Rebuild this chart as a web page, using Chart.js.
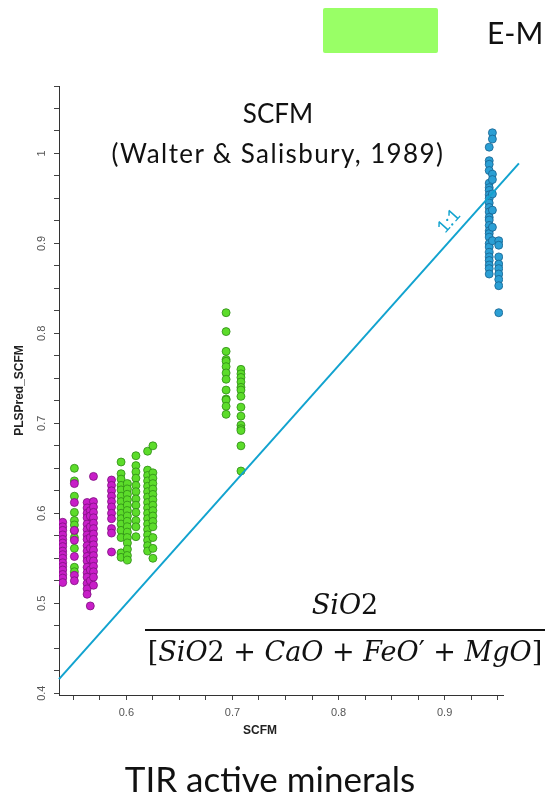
<!DOCTYPE html>
<html lang="en">
  <head>
    <meta charset="UTF-8" />
    <title>SCFM - TIR active minerals</title>
    <script src="https://cdn.jsdelivr.net/npm/chart.js"></script>
    <style>
      html,
      body {
        margin: 0;
        padding: 0;
        background: #fff;
      }
      body {
        position: relative;
        width: 547px;
        height: 803px;
        overflow: hidden;
        font-family: Lato, "Open Sans", sans-serif;
        color: #111;
      }
      .chart-container {
        position: absolute;
        left: 0;
        top: 0;
        width: 547px;
        height: 803px;
      }
      .legend-box {
        position: absolute;
        left: 323px;
        top: 8px;
        width: 115px;
        height: 45px;
        background: #99ff66;
        border-radius: 2px;
      }
      .legend-label {
        position: absolute;
        left: 487px;
        top: 12px;
        font-size: 30px;
        line-height: 40px;
      }
      .title {
        position: absolute;
        left: 28px;
        width: 500px;
        text-align: center;
        font-size: 26px;
        line-height: 30px;
      }
      .formula-part {
        position: absolute;
        left: 145px;
        width: 400px;
        text-align: center;
        font-family: "DejaVu Serif", serif;
        font-size: 27px;
        line-height: 34px;
      }
      .formula-bar {
        position: absolute;
        left: 145px;
        top: 629px;
        width: 400px;
        height: 2px;
        background: #111;
      }
      .footer {
        position: absolute;
        left: 20px;
        width: 500px;
        top: 757px;
        text-align: center;
        font-size: 35px;
        line-height: 42px;
      }
    </style>
  </head>
  <body>
    <div class="chart-container">
      <canvas id="scfmChart"></canvas>
    </div>

    <div class="legend-box"></div>
    <div class="legend-label">E-M</div>

    <div class="title" style="top: 98px">SCFM</div>
    <div class="title" style="top: 138px; letter-spacing: 1.4px">
      (Walter &amp; Salisbury, 1989)
    </div>

    <div class="formula-part" style="top: 588px"><i>SiO</i>2</div>
    <div class="formula-bar"></div>
    <div class="formula-part" style="top: 635px">
      [<i>SiO</i>2 + <i>CaO</i> + <i>FeO</i>′ + <i>MgO</i>]
    </div>

    <div class="footer">TIR active minerals</div>

    <script>
      // measured SCFM (x) and predicted SCFM (y), one array per column of points
      const magentaColX = [0.540, 0.551, 0.563, 0.566, 0.569, 0.586];
      const magentaColY = [
        [0.590, 0.585, 0.581, 0.576, 0.571, 0.567, 0.563, 0.558, 0.554, 0.550, 0.545, 0.541, 0.537, 0.532, 0.528, 0.523],
        [0.633, 0.612, 0.581, 0.570, 0.552, 0.531, 0.525],
        [0.612, 0.606, 0.600, 0.595, 0.588, 0.582, 0.576, 0.571, 0.564, 0.558, 0.552, 0.547, 0.540, 0.534, 0.529, 0.522, 0.516, 0.510],
        [0.603, 0.597, 0.585, 0.573, 0.561, 0.549, 0.537, 0.525, 0.497],
        [0.641, 0.613, 0.607, 0.601, 0.595, 0.589, 0.583, 0.577, 0.571, 0.565, 0.559, 0.553, 0.547, 0.541, 0.535, 0.529, 0.520],
        [0.637, 0.631, 0.625, 0.619, 0.613, 0.607, 0.600, 0.594, 0.583, 0.578, 0.557],
      ];

      const greenColX = [0.551, 0.595, 0.601, 0.609, 0.620, 0.625, 0.694, 0.708];
      const greenColY = [
        [0.650, 0.636, 0.619, 0.601, 0.592, 0.587, 0.581, 0.573, 0.561, 0.540, 0.535],
        [0.657, 0.644, 0.638, 0.631, 0.626, 0.619, 0.613, 0.606, 0.600, 0.594, 0.588, 0.581, 0.573, 0.556, 0.551],
        [0.633, 0.627, 0.621, 0.615, 0.609, 0.603, 0.597, 0.591, 0.585, 0.579, 0.573, 0.567, 0.560, 0.553, 0.548],
        [0.664, 0.653, 0.646, 0.639, 0.631, 0.624, 0.616, 0.609, 0.601, 0.592, 0.585, 0.574],
        [0.669, 0.648, 0.642, 0.636, 0.630, 0.624, 0.618, 0.612, 0.606, 0.600, 0.594, 0.588, 0.582, 0.576, 0.570, 0.564, 0.558],
        [0.675, 0.645, 0.639, 0.633, 0.627, 0.621, 0.615, 0.609, 0.603, 0.597, 0.591, 0.585, 0.573, 0.561, 0.550],
        [0.823, 0.802, 0.780, 0.771, 0.769, 0.763, 0.756, 0.749, 0.737, 0.727, 0.726, 0.719, 0.710],
        [0.760, 0.755, 0.751, 0.746, 0.740, 0.737, 0.730, 0.718, 0.708, 0.698, 0.694, 0.692, 0.675, 0.647],
      ];

      const blueColX = [0.942, 0.945, 0.951];
      const blueColY = [
        [1.007, 0.992, 0.988, 0.981, 0.967, 0.962, 0.959, 0.954, 0.950, 0.945, 0.940, 0.935, 0.929, 0.926, 0.920, 0.914, 0.911, 0.907, 0.900, 0.896, 0.890, 0.885, 0.881, 0.876, 0.872, 0.866],
        [1.023, 1.016, 0.977, 0.971, 0.955, 0.937, 0.918, 0.903],
        [0.903, 0.898, 0.885, 0.877, 0.872, 0.866, 0.860, 0.853, 0.823],
      ];

      // hand-drawn "1:1" reference line
      const refLineX = [0.5365, 0.970];
      const refLineY = [0.4156, 0.989];

      const yTickLabels = [0.4, 0.5, 0.6, 0.7, 0.8, 0.9, 1.0];

      const toPoints = (xs, ys) =>
        xs.flatMap((x, i) => ys[i].map((y) => ({ x: x, y: y })));

      const lineBlue = "#12a3cf";

      // draws the rotated y labels, x title and the 1:1 label
      const extraText = {
        id: "extraText",
        afterDraw(chart) {
          const ctx = chart.ctx;
          const xs = chart.scales.x;
          const ys = chart.scales.y;
          ctx.save();

          ctx.fillStyle = "#555";
          ctx.font = "11px Arial, 'Liberation Sans', sans-serif";
          ctx.textAlign = "center";
          ctx.textBaseline = "middle";
          yTickLabels.forEach((v) => {
            ctx.save();
            ctx.translate(42, ys.getPixelForValue(v));
            ctx.rotate(-Math.PI / 2);
            ctx.fillText(v === 1 ? "1" : v.toFixed(1), 0, 0);
            ctx.restore();
          });

          ctx.fillStyle = "#222";
          ctx.font = "bold 12px Arial, 'Liberation Sans', sans-serif";
          ctx.fillText("SCFM", 260, 731);

          const x0 = xs.getPixelForValue(refLineX[0]);
          const y0 = ys.getPixelForValue(refLineY[0]);
          const x1 = xs.getPixelForValue(refLineX[1]);
          const y1 = ys.getPixelForValue(refLineY[1]);
          const angle = Math.atan2(y1 - y0, x1 - x0);
          const t = 0.87;
          ctx.translate(x0 + (x1 - x0) * t, y0 + (y1 - y0) * t);
          ctx.rotate(angle);
          ctx.fillStyle = lineBlue;
          ctx.font = "18px Lato, 'Open Sans', sans-serif";
          ctx.fillText("1:1", 0, -14);

          ctx.restore();
        },
      };

      const pointStyle = (fill, border) => ({
        backgroundColor: fill,
        borderColor: border,
        borderWidth: 0.8,
        pointRadius: 4,
        pointHoverRadius: 4,
      });

      const config = {
        type: "scatter",
        data: {
          datasets: [
            {
              type: "line",
              label: "1:1",
              data: toPoints(refLineX, refLineY.map((y) => [y])),
              borderColor: lineBlue,
              borderWidth: 2,
              pointRadius: 0,
              fill: false,
              clip: false,
            },
            {
              label: "Magenta",
              data: toPoints(magentaColX, magentaColY),
              ...pointStyle("#c81ec8", "#7d0f7d"),
            },
            {
              label: "Green",
              data: toPoints(greenColX, greenColY),
              ...pointStyle("#5cdc2a", "#2f8a16"),
            },
            {
              label: "Blue",
              data: toPoints(blueColX, blueColY),
              ...pointStyle("#2b9fd4", "#17628f"),
            },
          ],
        },
        options: {
          responsive: true,
          maintainAspectRatio: false,
          animation: false,
          layout: {
            padding: { left: 0, top: 86, right: 44, bottom: 58 },
          },
          plugins: {
            legend: { display: false },
            tooltip: { enabled: false },
          },
          scales: {
            x: {
              type: "linear",
              min: 0.5365,
              max: 0.955,
              border: { color: "#333", width: 1 },
              grid: {
                drawOnChartArea: false,
                color: "#444",
                tickLength: 5,
              },
              ticks: {
                stepSize: 0.025,
                includeBounds: false,
                autoSkip: false,
                maxRotation: 0,
                padding: 6,
                color: "#555",
                font: { size: 11, family: "Arial, 'Liberation Sans', sans-serif" },
                callback: (v) => {
                  const r = Math.round(v * 1000);
                  return r % 100 === 0 ? (r / 1000).toFixed(1) : "";
                },
              },
              afterFit: (scale) => {
                scale.height = 50;
              },
            },
            y: {
              type: "linear",
              min: 0.398,
              max: 1.075,
              border: { color: "#333", width: 1 },
              grid: {
                drawOnChartArea: false,
                color: "#444",
                tickLength: 5,
              },
              ticks: {
                stepSize: 0.025,
                includeBounds: false,
                display: false,
              },
              title: {
                display: true,
                text: "PLSPred_SCFM",
                color: "#222",
                font: {
                  size: 12,
                  weight: "bold",
                  family: "Arial, 'Liberation Sans', sans-serif",
                },
                padding: { top: 12, bottom: 0 },
              },
              afterFit: (scale) => {
                scale.width = 59;
              },
            },
          },
        },
        plugins: [extraText],
      };

      window.onload = function () {
        const ctx = document.getElementById("scfmChart").getContext("2d");
        new Chart(ctx, config);
      };
    </script>
  </body>
</html>
